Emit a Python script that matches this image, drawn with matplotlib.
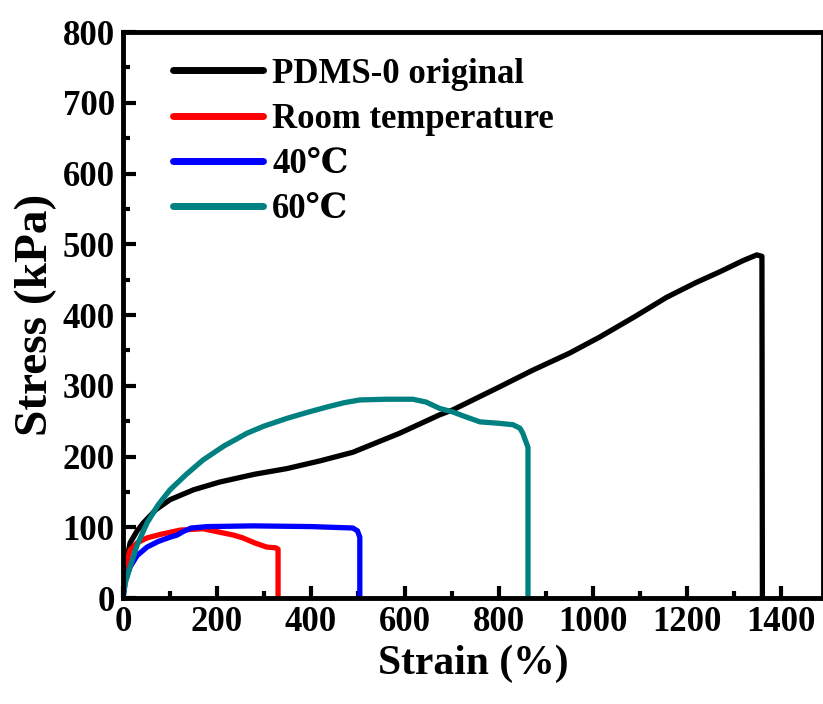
"""Stress-strain curves of PDMS-0 samples healed at different temperatures."""

import matplotlib
matplotlib.use("Agg")
import matplotlib.pyplot as plt
from matplotlib.ticker import MultipleLocator

plt.rcParams["font.family"] = ["Liberation Serif", "DejaVu Serif"]
plt.rcParams["font.weight"] = "bold"

# PDMS-0 original
orig_strain = [0, 5, 15, 30, 43, 70, 100, 150, 206, 280, 349, 420, 489, 589,
               674, 702, 800, 872, 950, 1015, 1090, 1157, 1220, 1270, 1320,
               1349, 1360, 1361]
orig_stress = [0, 45, 78, 95, 106, 125, 139, 153, 164, 175, 183, 194, 206, 233,
               259, 266, 298, 322, 346, 369, 398, 425, 446, 461, 477,
               485, 483, 0]

# room temperature
rt_strain = [0, 5, 15, 30, 51, 80, 121, 170, 206, 235, 255, 280, 306, 325, 330, 330]
rt_stress = [0, 45, 68, 78, 85, 90, 96, 98, 93, 89, 85, 78, 72, 71, 69, 0]

# 40 C
c40_strain = [0, 5, 15, 30, 51, 75, 100, 115, 128, 145, 180, 277, 400, 489, 499,
              504, 504]
c40_stress = [0, 25, 44, 60, 72, 80, 86, 89, 94, 99, 101, 102, 101, 99, 95, 86, 0]

# 60 C
c60_strain = [0, 5, 15, 30, 51, 75, 100, 135, 170, 215, 264, 300, 349, 390, 434,
              470, 504, 560, 617, 645, 674, 702, 730, 760, 800, 830, 845, 851,
              857, 862, 862]
c60_stress = [0, 22, 44, 75, 106, 132, 153, 175, 195, 215, 233, 243, 254, 262, 270,
              276, 280, 281, 281, 277, 268, 263, 256, 249, 247, 245, 240, 233,
              222, 213, 0]

series = [
    ("PDMS-0 original", orig_strain, orig_stress, "black"),
    ("Room temperature", rt_strain, rt_stress, "#ff0000"),
    ("40\u2103", c40_strain, c40_stress, "#0000ff"),
    ("60\u2103", c60_strain, c60_stress, "#008080"),
]

fig = plt.figure(figsize=(8.23, 7.04), dpi=100)
ax = fig.add_axes([0.1495, 0.1505, 0.8505, 0.804])

for label, x, y, color in series:
    ax.plot(x, y, color=color, lw=3.8, label=label,
            solid_joinstyle="round", solid_capstyle="round")

ax.set_xlim(0, 1490)
ax.set_ylim(0, 800)
ax.xaxis.set_major_locator(MultipleLocator(200))
ax.xaxis.set_minor_locator(MultipleLocator(100))
ax.yaxis.set_major_locator(MultipleLocator(100))
ax.yaxis.set_minor_locator(MultipleLocator(50))
ax.tick_params(which="both", direction="in", width=3, labelsize=25, pad=6)
ax.tick_params(which="major", length=9)
ax.tick_params(which="minor", length=5)
for sp in ax.spines.values():
    sp.set_linewidth(3.5)

ax.set_xlabel("Strain (%)", fontsize=30, fontweight="bold", labelpad=4)
ax.set_ylabel("Stress (kPa)", fontsize=34, fontweight="bold", labelpad=4)

leg = ax.legend(loc="upper left", frameon=False, fontsize=25, handlelength=2.6,
                handletextpad=0.25, labelspacing=0.35,
                bbox_to_anchor=(0.027, 1.01))
for h in leg.get_lines():
    h.set_linewidth(5)

fig.savefig("out.png", dpi=100)
plt.close(fig)
